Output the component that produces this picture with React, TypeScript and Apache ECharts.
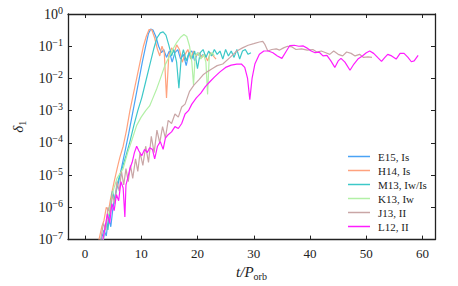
import React, { useEffect, useRef } from 'react';
import * as echarts from 'echarts';

const X_TICKS = [0, 10, 20, 30, 40, 50, 60];
const NAMES = ['E15, Is', 'H14, Is', 'M13, Iw/Is', 'K13, Iw', 'J13, II', 'L12, II'];
const COLORS = ['#4aa3f5', '#ffa27e', '#3cc8c8', '#b2f0a6', '#c9a6a6', '#ff1cff'];

const e15 = [[2.9,1e-7],[3.4,2e-7],[3.8,1.3e-7],[4.2,5e-7],[4.6,2.5e-7],[5.0,1e-6],[5.4,2.5e-6],[6.0,6.3e-6],[6.6,2e-5],[7.2,6.3e-5],[7.8,2e-4],[8.4,7.1e-4],[9.0,2.5e-3],[9.6,8.9e-3],[10.2,3.2e-2],[10.8,0.1],[11.3,0.25],[11.7,0.34],[12.1,0.32],[12.6,0.2],[13.1,0.1],[13.6,6.3e-2],[14.0,7.9e-2],[14.5,4.5e-2],[15.0,7.1e-2],[15.5,3.2e-2],[16.0,6.3e-2],[16.5,7.9e-2],[17.0,4e-2],[17.5,5.6e-2],[18.0,2.5e-2],[18.5,6.3e-2],[19.0,7.1e-2],[19.5,3.5e-2],[20.0,6.3e-2],[20.5,4.5e-2],[21.0,5.6e-2]];

const h14 = [[2.5,1e-7],[3.0,2.5e-7],[3.4,4e-7],[3.8,1e-6],[4.2,7.9e-7],[4.6,2e-6],[5.2,6.3e-6],[5.8,1.8e-5],[6.2,3.5e-5],[6.8,7.9e-5],[7.4,2.5e-4],[8.0,1e-3],[8.6,3.2e-3],[9.2,1e-2],[9.8,3.2e-2],[10.4,0.1],[10.9,0.2],[11.4,0.33],[11.9,0.32],[12.4,0.18],[12.9,7.9e-2],[13.3,5e-2],[13.7,0.1],[14.1,6.3e-2],[14.5,2.5e-3],[14.9,5e-2],[15.4,8.9e-2],[15.9,6.3e-2],[16.3,0.11],[16.8,7.9e-2],[17.3,3.2e-2],[17.8,5.6e-2],[18.3,7.9e-2],[18.8,4e-2],[19.3,7.1e-2],[19.8,5e-2],[20.3,6.3e-2],[20.8,4.5e-2],[21.3,5.6e-2],[21.8,3.5e-2],[22.3,6.3e-2],[22.8,5e-2],[23.3,4e-2]];

const m13 = [[3.3,1e-7],[3.7,3.2e-7],[4.1,2e-7],[4.5,1e-6],[4.9,3.2e-6],[5.3,1.6e-6],[5.7,5e-6],[6.2,1e-5],[6.7,1.8e-5],[7.3,4e-5],[8.0,1.1e-4],[8.7,3.5e-4],[9.4,1e-3],[10.1,2.5e-3],[10.8,7.9e-3],[11.5,2.5e-2],[12.2,7.9e-2],[12.8,0.18],[13.4,0.26],[13.9,0.28],[14.4,0.22],[14.9,0.11],[15.4,5e-2],[15.8,7.9e-2],[16.3,3.2e-2],[16.7,5e-3],[17.1,4e-2],[17.5,7.9e-2],[18.0,3.5e-2],[18.5,6.3e-2],[19.0,4e-2],[19.5,7.1e-2],[20.0,2e-2],[20.5,6.3e-2],[21.0,7.9e-2],[21.5,4.5e-2],[22.0,7.1e-2],[22.5,5e-2],[23.0,7.9e-2],[23.5,5.6e-2],[24.0,7.1e-2],[24.5,4e-2],[25.0,7.9e-2],[25.5,5e-2],[26.0,7.1e-2],[26.5,4.5e-2],[27.0,7.9e-2],[27.5,4e-2],[28.0,7.1e-2],[28.5,7.9e-2],[29.0,5.6e-2],[29.5,6.3e-2]];

const k13 = [[3.2,1e-7],[3.8,3.2e-7],[4.4,7.9e-7],[5.0,3.2e-6],[5.7,7.9e-6],[6.8,1.6e-5],[7.6,5e-5],[8.4,1.3e-4],[9.2,3.5e-4],[10.0,6.3e-4],[10.8,1e-3],[11.5,1.4e-3],[12.1,2.5e-3],[12.8,5e-3],[13.5,1.1e-2],[14.2,2.5e-2],[14.9,4.5e-2],[15.6,7.9e-2],[16.3,0.13],[17.0,0.19],[17.6,0.23],[18.1,0.2],[18.6,0.1],[19.0,3.2e-2],[19.3,6.3e-3],[19.6,5e-2],[20.1,6.3e-2],[20.6,4e-2],[21.1,5.6e-2],[21.5,3.2e-2],[21.8,3.2e-3],[22.1,5e-2],[22.6,6.3e-2],[23.0,5e-2]];

const j13 = [[2.8,1e-7],[3.3,3.2e-7],[3.7,2e-7],[4.1,1e-6],[4.5,6.3e-7],[4.9,2.5e-6],[5.3,1.3e-6],[5.7,6.3e-6],[6.1,3.2e-6],[6.5,1.3e-5],[6.9,5e-6],[7.3,1.6e-5],[7.7,6.3e-6],[8.1,2e-5],[8.5,7.9e-6],[9.0,3.2e-5],[9.4,1.3e-5],[9.8,5e-5],[10.3,2e-5],[10.8,7.9e-5],[11.3,2.5e-5],[11.8,1.6e-4],[12.3,5e-5],[12.8,2.5e-4],[13.3,1e-4],[13.8,3.2e-4],[14.3,1.4e-4],[14.8,5e-4],[15.4,4e-4],[16.0,7.9e-4],[16.6,6.3e-4],[17.2,1.3e-3],[17.8,1.6e-3],[18.6,4e-3],[19.4,6.3e-3],[20.2,8.9e-3],[21.0,1.3e-2],[21.7,1.6e-2],[22.6,2e-2],[23.5,2.5e-2],[24.5,2.8e-2],[25.8,4.5e-2],[27.0,7.1e-2],[28.0,8.9e-2],[29.0,0.107],[30.0,0.12],[31.0,0.135],[31.6,0.141],[32.0,0.112],[32.5,7.1e-2],[33.2,7.9e-2],[34.0,8.3e-2],[34.6,7.6e-2],[35.3,8.9e-2],[36.0,0.1],[36.8,9.5e-2],[37.5,7.9e-2],[38.5,8.3e-2],[39.5,7.6e-2],[40.5,7.9e-2],[41.2,6.6e-2],[42.0,7.1e-2],[42.8,6.3e-2],[43.5,5.6e-2],[44.2,7.1e-2],[45.0,5.6e-2],[45.8,5e-2],[46.5,6.6e-2],[47.3,6e-2],[48.0,5e-2],[48.8,5.6e-2],[49.5,4.5e-2],[50.3,4.7e-2],[51.0,4.5e-2]];

const l12 = [[3.2,1e-7],[3.6,2.5e-7],[4.0,6.3e-7],[4.4,3.2e-7],[4.8,1.3e-6],[5.2,7.9e-7],[5.6,2.5e-6],[6.0,1.6e-6],[6.4,6.3e-6],[6.8,4e-6],[7.1,5e-7],[7.3,5e-6],[7.6,7.9e-6],[8.0,1.6e-5],[8.4,2.5e-5],[8.8,5e-5],[9.2,7.9e-5],[9.6,5.6e-5],[10.1,4e-5],[10.6,6.3e-5],[11.1,5e-5],[11.5,7.1e-5],[12.0,6.3e-5],[12.4,3.2e-5],[12.9,7.9e-5],[13.4,1.1e-4],[13.9,6.3e-5],[14.3,1.4e-4],[14.8,1.8e-4],[15.4,2.2e-4],[16.0,3.2e-4],[16.6,2.8e-4],[17.2,4e-4],[17.8,7.9e-4],[18.4,1e-3],[19.0,1.6e-3],[19.8,2.5e-3],[20.6,3.5e-3],[21.4,5.6e-3],[22.2,7.9e-3],[23.0,1.1e-2],[24.0,1.6e-2],[25.0,2.2e-2],[26.0,2.6e-2],[27.0,2.8e-2],[27.8,2.8e-2],[28.4,2.2e-2],[28.9,1e-2],[29.3,2.2e-3],[29.7,1e-2],[30.2,2.8e-2],[31.0,5.6e-2],[31.8,7.1e-2],[32.6,7.1e-2],[33.4,6.3e-2],[34.2,5e-2],[35.0,4.2e-2],[35.8,7.1e-2],[36.4,0.105],[37.2,0.107],[38.0,0.1],[38.8,0.102],[39.4,8.9e-2],[40.2,7.1e-2],[40.9,6.3e-2],[41.6,6.6e-2],[42.3,5e-2],[43.0,5.2e-2],[43.7,3.5e-2],[44.4,2.2e-2],[45.0,3.5e-2],[45.5,4.2e-2],[46.2,3.2e-2],[47.1,1.8e-2],[47.8,2.8e-2],[48.5,4e-2],[49.3,5e-2],[50.0,6.3e-2],[50.6,7.1e-2],[51.3,6e-2],[52.0,4.5e-2],[52.7,3.4e-2],[53.3,4.5e-2],[53.8,5.6e-2],[54.5,5e-2],[55.3,4e-2],[56.0,6e-2],[56.7,6e-2],[57.4,4.5e-2],[58.0,3.3e-2],[58.5,3.5e-2],[59.2,5.2e-2]];

const SERIES_DATA = [e15, h14, m13, k13, j13, l12];

const FONT = 'Liberation Serif, DejaVu Serif, serif';
const INK = '#222';

export default function App() {
  const ref = useRef<HTMLDivElement>(null);
  useEffect(() => {
    const chart = echarts.init(ref.current!, null, { renderer: 'svg' });
    const axisLine = { show: true, onZero: false, lineStyle: { color: INK, width: 1.3 } };
    const tick = { show: true, inside: true, length: 4, lineStyle: { color: INK, width: 1 } };
    chart.setOption({
      animation: false,
      backgroundColor: '#fff',
      grid: { left: 68, right: 23, top: 14, bottom: 43 },
      legend: {
        orient: 'vertical',
        left: 343,
        top: 146,
        padding: 5,
        icon: 'rect',
        itemWidth: 22,
        itemHeight: 1.5,
        itemGap: 3,
        data: NAMES,
        textStyle: { fontFamily: FONT, fontSize: 11, color: INK, lineHeight: 10, padding: [0, 0, 0, 3] },
      },
      xAxis: [
        {
          type: 'value', min: -3, max: 62.2, position: 'bottom',
          axisLine, axisTick: { ...tick, customValues: X_TICKS },
          axisLabel: { customValues: X_TICKS, fontFamily: FONT, fontSize: 13, color: INK, margin: 7 },
          splitLine: { show: false },
          name: '{i|t/P}{s|orb}', nameLocation: 'middle', nameGap: 22,
          nameTextStyle: {
            rich: {
              i: { fontFamily: FONT, fontStyle: 'italic', fontSize: 15, color: INK, lineHeight: 18 },
              s: { fontFamily: FONT, fontSize: 10, color: INK, verticalAlign: 'bottom', lineHeight: 11 },
            },
          },
        },
        {
          type: 'value', min: -3, max: 62.2, position: 'top',
          axisLine, axisTick: { ...tick, customValues: X_TICKS },
          axisLabel: { show: false }, splitLine: { show: false },
        },
      ],
      yAxis: [
        {
          type: 'log', logBase: 10, min: 1e-7, max: 1, splitNumber: 7, position: 'left',
          axisLine, axisTick: tick, minorTick: { show: false },
          axisLabel: {
            margin: 5,
            formatter: (v: number) => `{b|10}{s|${Math.round(Math.log10(v)) === 0 ? '0' : '−' + Math.abs(Math.round(Math.log10(v)))}}`,
            rich: {
              b: { fontFamily: FONT, fontSize: 14, color: INK, lineHeight: 18 },
              s: { fontFamily: FONT, fontSize: 10, color: INK, verticalAlign: 'top', lineHeight: 10 },
            },
          },
          splitLine: { show: false },
          name: '{i|δ}{s|1}', nameLocation: 'middle', nameGap: 40, nameRotate: 90,
          nameTextStyle: {
            rich: {
              i: { fontFamily: FONT, fontStyle: 'italic', fontSize: 15, color: INK, lineHeight: 18 },
              s: { fontFamily: FONT, fontSize: 10, color: INK, verticalAlign: 'bottom', lineHeight: 11 },
            },
          },
        },
        {
          type: 'log', logBase: 10, min: 1e-7, max: 1, splitNumber: 7, position: 'right',
          axisLine, axisTick: tick, axisLabel: { show: false }, splitLine: { show: false },
        },
      ],
      series: SERIES_DATA.map((d, i) => ({
        name: NAMES[i],
        type: 'line',
        xAxisIndex: 0,
        yAxisIndex: 0,
        data: d,
        symbol: 'none',
        showSymbol: false,
        clip: true,
        color: COLORS[i],
        lineStyle: { color: COLORS[i], width: 1.2 },
        z: 2 + i,
      })),
    });
    return () => chart.dispose();
  }, []);
  return <div ref={ref} style={{ position: 'fixed', left: 0, top: 0, width: 458, height: 286 }} />;
}
